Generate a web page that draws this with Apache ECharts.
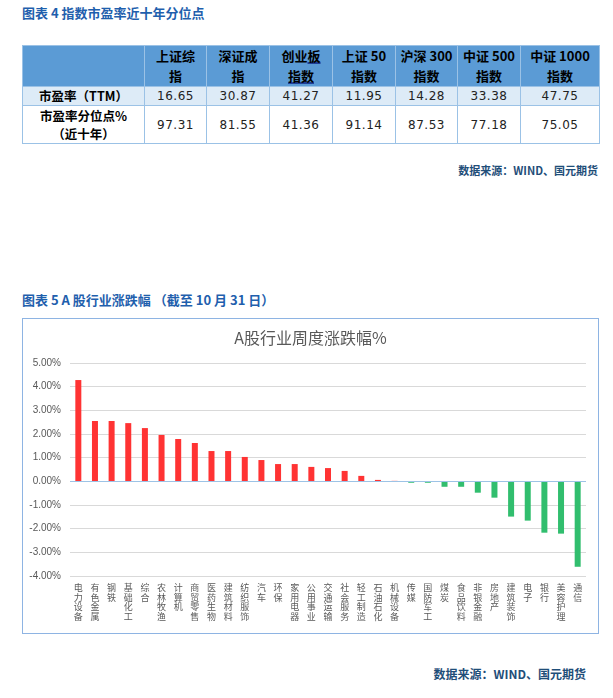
<!DOCTYPE html>
<html><head><meta charset="utf-8">
<script src="https://cdn.jsdelivr.net/npm/echarts@6/dist/echarts.min.js"></script>
<style>
body{margin:0;background:#fff;font-family:"Noto Sans CJK SC","Noto Sans",sans-serif;}
.cap{position:absolute;left:22px;font-size:13px;color:#1F5FAD;font-weight:bold;white-space:nowrap;line-height:16px}
.src{position:absolute;font-size:11px;color:#1F4E79;font-weight:bold;white-space:nowrap;line-height:14px}
table{position:absolute;left:22px;top:45px;border-collapse:collapse;table-layout:fixed;width:577px}
td{border:1px solid #9BC2E6;text-align:center;padding:0;font-size:12.5px;color:#111;overflow:hidden}
tr.h td{background:#5B9BD5;font-weight:bold;font-size:13px;line-height:20px;height:37px;color:#000}
tr.r1 td{background:#DDEBF7;height:18px;line-height:18px}
tr.r2 td{background:#fff;height:37px;line-height:18px}
td.lab{font-weight:bold;color:#000}
td.num{font-family:"DejaVu Sans",sans-serif;font-size:12px;letter-spacing:0.5px;color:#222}
.ul{text-decoration:underline;text-decoration-color:#1F3F99;text-decoration-thickness:2px}
#box{position:absolute;left:22px;top:318px;width:577px;height:316px;border:1px solid #8EB4E3;box-sizing:border-box}
#chart{position:absolute;left:0;top:0;width:575px;height:314px}
</style></head>
<body>
<div class="cap" style="top:5px">图表 4 指数市盈率近十年分位点</div>
<table id="tbl"></table>
<div class="src" style="top:163px;right:15px">数据来源：WIND、国元期货</div>
<div class="cap" style="top:292px">图表 5 A 股行业涨跌幅 （截至 10 月 31 日）</div>
<div id="box"><div id="chart"></div></div>
<div class="src" style="top:667px;right:27px;font-size:12px">数据来源：WIND、国元期货</div>
<script>
// ---- table data ----
const tableHeads = ['上证综\n指','深证成\n指','创业板\n指数','上证 50\n指数','沪深 300\n指数','中证 500\n指数','中证 1000\n指数'];
const rowLabels = ['市盈率（TTM）','市盈率分位点%\n（近十年）'];
const peTTM = [16.65,30.87,41.27,11.95,14.28,33.38,47.75];
const pePct = [97.31,81.55,41.36,91.14,87.53,77.18,75.05];
const colWidths = [122,62,63,63,63,62,63,79];

// ---- chart data ----
const categories = ['电力设备','有色金属','钢铁','基础化工','综合','农林牧渔','计算机','商贸零售','医药生物','建筑材料','纺织服饰','汽车','环保','家用电器','公用事业','交通运输','社会服务','轻工制造','石油石化','机械设备','传媒','国防军工','煤炭','食品饮料','非银金融','房地产','建筑装饰','电子','银行','美容护理','通信'];
const weeklyChange = [4.28,2.55,2.55,2.46,2.25,1.96,1.79,1.62,1.28,1.28,1.03,0.90,0.73,0.73,0.61,0.56,0.44,0.23,0.06,0.02,-0.06,-0.06,-0.23,-0.23,-0.48,-0.69,-1.49,-1.66,-2.17,-2.21,-3.61];
const yTicks = [-4,-3,-2,-1,0,1,2,3,4,5];

// build table
const tbl = document.getElementById('tbl');
let html = '<colgroup>' + colWidths.map(w=>'<col style="width:'+w+'px">').join('') + '</colgroup>';
html += '<tr class="h"><td></td>' + tableHeads.map((h,i)=>{
  const lines = h.split('\n');
  if (i===2) return '<td>创业<span class="ul">板</span><br><span class="ul">指数</span></td>';
  return '<td>'+lines.join('<br>')+'</td>';
}).join('') + '</tr>';
html += '<tr class="r1"><td class="lab">'+rowLabels[0]+'</td>' + peTTM.map(v=>'<td class="num">'+v.toFixed(2)+'</td>').join('') + '</tr>';
html += '<tr class="r2"><td class="lab">'+rowLabels[1].split('\n').join('<br>')+'</td>' + pePct.map(v=>'<td class="num">'+v.toFixed(2)+'</td>').join('') + '</tr>';
tbl.innerHTML = html;

// chart
const chart = echarts.init(document.getElementById('chart'));
chart.setOption({
  animation:false,
  backgroundColor:'#fff',
  title:{text:'A股行业周度涨跌幅%',left:'center',top:11,padding:0,
    textStyle:{fontSize:16,fontWeight:'normal',color:'#595959',fontFamily:'Noto Sans CJK SC'}},
  grid:{left:47,right:12,top:44,bottom:57},
  xAxis:{type:'category',data:categories,
    axisLine:{show:false,onZero:false},axisTick:{show:false},
    axisLabel:{interval:0,fontSize:9,lineHeight:9.6,color:'#595959',margin:7,
      fontFamily:'Noto Sans CJK SC',formatter:v=>v.split('').join('\n')}},
  yAxis:{type:'value',min:yTicks[0],max:yTicks[yTicks.length-1],interval:1,
    axisLine:{show:false},axisTick:{show:false},
    splitLine:{lineStyle:{color:'#D9D9D9',width:1}},
    axisLabel:{formatter:v=>v.toFixed(2)+'%',fontSize:10,color:'#595959',margin:9,fontFamily:'Liberation Sans'}},
  series:[{type:'bar',barWidth:6,
    data:weeklyChange.map(v=>({value:v,itemStyle:{color:v>=0?'#FF3333':'#31BE6E'}})),
    markLine:{silent:true,symbol:'none',label:{show:false},
      lineStyle:{color:'#9DC3E6',width:1,type:'solid'},data:[{yAxis:0}]}}]
});
</script>
</body></html>
